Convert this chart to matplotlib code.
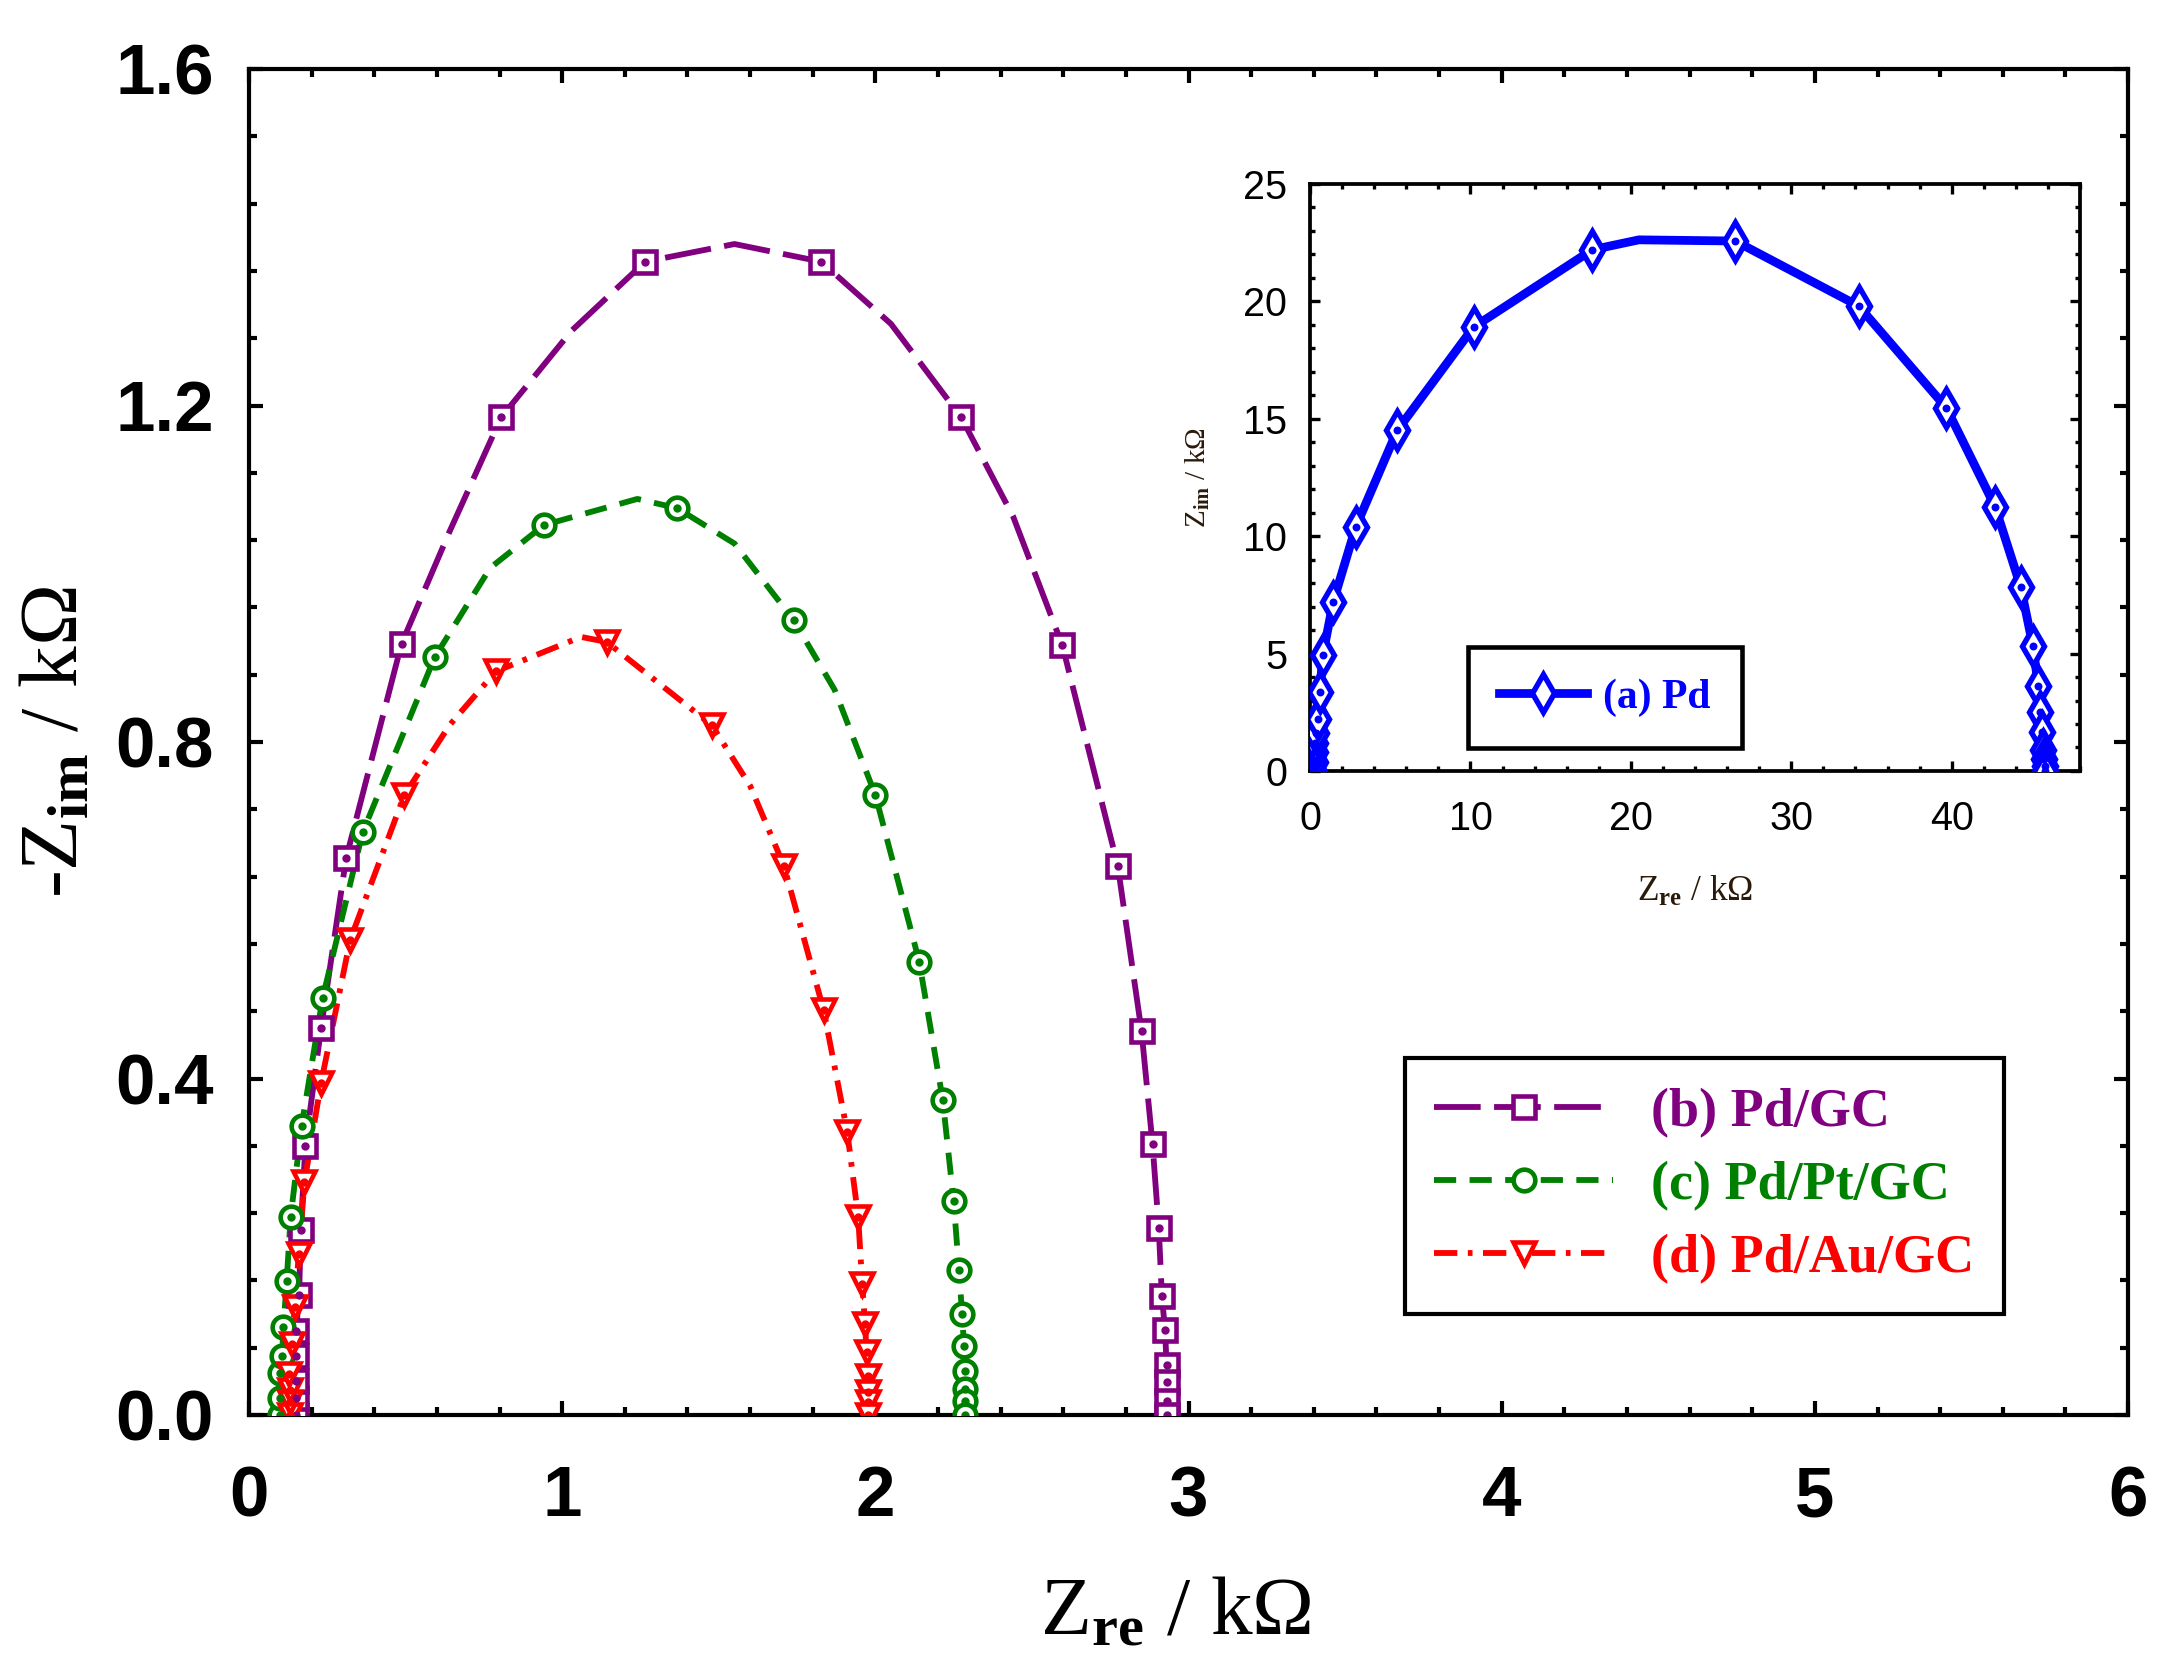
import numpy as np
import matplotlib.pyplot as plt
from matplotlib.ticker import MultipleLocator, FormatStrFormatter

# values (kOhm), ordered along each arc
# (b) Pd/GC
pdgc_re = [0.15, 0.15, 0.15, 0.15, 0.15, 0.16, 0.165, 0.18, 0.23, 0.31, 0.487, 0.805, 1.265,
           1.827, 2.274, 2.597, 2.774, 2.85, 2.885, 2.905, 2.915, 2.925, 2.93, 2.93, 2.93, 2.93]
pdgc_im = [0.0, 0.02, 0.04, 0.07, 0.10, 0.143, 0.22, 0.32, 0.46, 0.662, 0.917, 1.186, 1.371,
           1.371, 1.186, 0.915, 0.653, 0.456, 0.322, 0.222, 0.141, 0.101, 0.059, 0.039, 0.017, 0.0]
# extra points on the drawn curve between markers
pdgc_curve_re = [0.64, 1.03, 1.55, 2.05, 2.44]
pdgc_curve_im = [1.05, 1.289, 1.392, 1.297, 1.068]

# (c) Pd/Pt/GC
pdpt_re = [0.10, 0.10, 0.10, 0.105, 0.11, 0.12, 0.133, 0.168, 0.235, 0.363, 0.593, 0.942, 1.367,
           1.739, 2.0, 2.14, 2.215, 2.25, 2.267, 2.277, 2.283, 2.285, 2.285, 2.285, 2.285]
pdpt_im = [0.0, 0.02, 0.05, 0.07, 0.105, 0.159, 0.236, 0.344, 0.496, 0.693, 0.901, 1.058, 1.078,
           0.945, 0.737, 0.539, 0.375, 0.254, 0.172, 0.120, 0.082, 0.052, 0.031, 0.017, 0.0]
pdpt_curve_re = [0.77, 1.24, 1.55, 1.87]
pdpt_curve_im = [1.007, 1.089, 1.036, 0.862]

# (d) Pd/Au/GC
pdau_re = [0.13, 0.13, 0.13, 0.128, 0.137, 0.146, 0.159, 0.177, 0.23, 0.323, 0.496, 0.788, 1.142,
           1.478, 1.708, 1.835, 1.91, 1.945, 1.958, 1.967, 1.972, 1.975, 1.975, 1.975, 1.975]
pdau_im = [0.0, 0.015, 0.03, 0.049, 0.085, 0.129, 0.192, 0.277, 0.395, 0.565, 0.737, 0.884, 0.919,
           0.82, 0.653, 0.481, 0.337, 0.236, 0.156, 0.108, 0.075, 0.046, 0.027, 0.015, 0.0]
pdau_curve_re = [0.64, 1.06, 1.6]
pdau_curve_im = [0.82, 0.925, 0.748]

# (a) Pd, inset
pd_re = [0.27, 0.3, 0.3, 0.3, 0.35, 0.5, 0.6, 0.8, 1.44, 2.85, 5.44, 10.19, 17.6, 26.5,
         34.2, 39.66, 42.7, 44.3, 45.06, 45.4, 45.5, 45.6, 45.7, 45.75, 45.8, 45.8]
pd_im = [0.0, 0.4, 0.8, 1.2, 1.6, 2.2, 3.35, 4.95, 7.19, 10.39, 14.51, 18.9, 22.2, 22.57,
         19.8, 15.47, 11.26, 7.84, 5.32, 3.6, 2.5, 1.68, 0.9, 0.5, 0.2, 0.0]
pd_curve_re = [20.5]
pd_curve_im = [22.62]


def arc_line(re, im, cre, cim):
    # put the curve-only points between the markers on the upper arc
    out = list(zip(re, im))
    for e in sorted(zip(cre, cim)):
        for i in range(len(out) - 1):
            if out[i][0] <= e[0] < out[i + 1][0] and out[i][1] > 0.3 * max(im):
                out.insert(i + 1, e)
                break
    x, y = zip(*out)
    return np.array(x), np.array(y)


plt.rcParams['font.family'] = 'Liberation Serif'
plt.rcParams['font.weight'] = 'bold'
plt.rcParams['mathtext.fontset'] = 'custom'
plt.rcParams['mathtext.rm'] = 'Liberation Serif:bold'
plt.rcParams['mathtext.it'] = 'Liberation Serif:italic:bold'
plt.rcParams['mathtext.bf'] = 'Liberation Serif:bold'
plt.rcParams['mathtext.default'] = 'rm'

fig = plt.figure(figsize=(7.2, 5.6), dpi=300)
ax = fig.add_axes([0.1153, 0.1577, 0.8699, 0.8012])

series = [
    (pdgc_re, pdgc_im, pdgc_curve_re, pdgc_curve_im, '#800080', 's', (8, 2.3), '(b) Pd/GC'),
    (pdpt_re, pdpt_im, pdpt_curve_re, pdpt_curve_im, '#008000', 'o', (3.8, 2.3), '(c) Pd/Pt/GC'),
    (pdau_re, pdau_im, pdau_curve_re, pdau_curve_im, '#FF0000', 'v', (4, 1.8, 0.8, 1.8), '(d) Pd/Au/GC'),
]

handles = []
for re, im, cre, cim, col, mk, dash, lab in series:
    lx, ly = arc_line(re, im, cre, cim)
    ax.plot(lx, ly, color=col, lw=1.4, dashes=dash, zorder=2)
    ax.plot(re, im, ls='none', marker=mk, ms=5.2, mfc='white', mec=col, mew=1.1, zorder=3)
    ax.plot(re, im, ls='none', marker='o', ms=1.0, color=col, zorder=4)
    h, = ax.plot([], [], color=col, lw=1.4, dashes=dash, marker=mk, ms=5.2,
                 mfc='white', mec=col, mew=1.1, label=lab)
    handles.append(h)

ax.set_xlim(0, 6)
ax.set_ylim(0, 1.6)
ax.xaxis.set_major_locator(MultipleLocator(1))
ax.xaxis.set_minor_locator(MultipleLocator(0.2))
ax.yaxis.set_major_locator(MultipleLocator(0.4))
ax.yaxis.set_minor_locator(MultipleLocator(0.08))
ax.xaxis.set_major_formatter(FormatStrFormatter('%g'))
ax.yaxis.set_major_formatter(FormatStrFormatter('%.1f'))
ax.tick_params(which='both', direction='in', top=True, right=True, width=1.0)
ax.tick_params(which='major', length=3.4)
ax.tick_params(which='minor', length=2.0)
ax.tick_params(axis='x', which='major', pad=12)
ax.tick_params(axis='y', which='major', pad=8.5)
for s in ax.spines.values():
    s.set_linewidth(1.0)
for t in ax.get_xticklabels() + ax.get_yticklabels():
    t.set_fontfamily('Liberation Sans')
    t.set_fontweight('bold')
    t.set_fontsize(17)

ax.set_xlabel(r'Z$_{\mathrm{re}}$ / kΩ', fontsize=20, va='center')
ax.xaxis.set_label_coords(0.493, -0.148)
ax.set_ylabel(r'-Z$_{\mathrm{im}}$ / kΩ', fontsize=20, va='center')
ax.yaxis.set_label_coords(-0.102, 0.5)

leg = ax.legend(handles=handles, loc='upper left', bbox_to_anchor=(0.615, 0.265),
                fontsize=13, handlelength=3.3, handletextpad=0.7, labelspacing=0.42,
                borderpad=0.55, numpoints=1, fancybox=False, framealpha=1,
                edgecolor='black', labelcolor='linecolor', borderaxespad=0)
leg.get_frame().set_linewidth(1.0)

# inset: (a) Pd
ins = fig.add_axes([0.6065, 0.5411, 0.3565, 0.3494])
lx, ly = arc_line(pd_re, pd_im, pd_curve_re, pd_curve_im)
ins.plot(lx, ly, color='#0000FF', lw=2.1, zorder=2)
ins.plot(pd_re, pd_im, ls='none', marker='d', ms=6.5, mfc='white', mec='#0000FF', mew=1.3, zorder=3)
ins.plot(pd_re, pd_im, ls='none', marker='o', ms=0.9, color='#0000FF', zorder=4)
hpd, = ins.plot([], [], color='#0000FF', lw=2.1, marker='d', ms=6.5, mfc='white',
                mec='#0000FF', mew=1.3, label='(a) Pd')
ins.set_xlim(0, 48)
ins.set_ylim(0, 25)
ins.xaxis.set_major_locator(MultipleLocator(10))
ins.xaxis.set_minor_locator(MultipleLocator(2))
ins.yaxis.set_major_locator(MultipleLocator(5))
ins.yaxis.set_minor_locator(MultipleLocator(1))
ins.tick_params(which='both', direction='in', top=True, right=True, width=0.8)
ins.tick_params(which='major', length=2.4)
ins.tick_params(which='minor', length=1.3)
ins.tick_params(axis='x', which='major', pad=7)
ins.tick_params(axis='y', which='major', pad=5.5)
for s in ins.spines.values():
    s.set_linewidth(0.9)
for t in ins.get_xticklabels() + ins.get_yticklabels():
    t.set_fontfamily('Liberation Sans')
    t.set_fontweight('normal')
    t.set_fontsize(9.5)
ins.set_xlabel(r'Z$_{\mathrm{re}}$ / kΩ', fontsize=8.5, va='center', color='#2a1a0a')
ins.xaxis.set_label_coords(0.5, -0.206)
ins.set_ylabel(r'Z$_{\mathrm{im}}$ / kΩ', fontsize=7, va='center', color='#2a1a0a')
ins.yaxis.set_label_coords(-0.145, 0.5)
ileg = ins.legend(handles=[hpd], loc='upper left', bbox_to_anchor=(0.205, 0.211),
                  fontsize=10, handlelength=2.1, handletextpad=0.4, borderpad=0.75,
                  numpoints=1, fancybox=False, framealpha=1, edgecolor='black',
                  labelcolor='linecolor', borderaxespad=0)
ileg.get_frame().set_linewidth(1.1)

fig.savefig('out.png', dpi=300)
